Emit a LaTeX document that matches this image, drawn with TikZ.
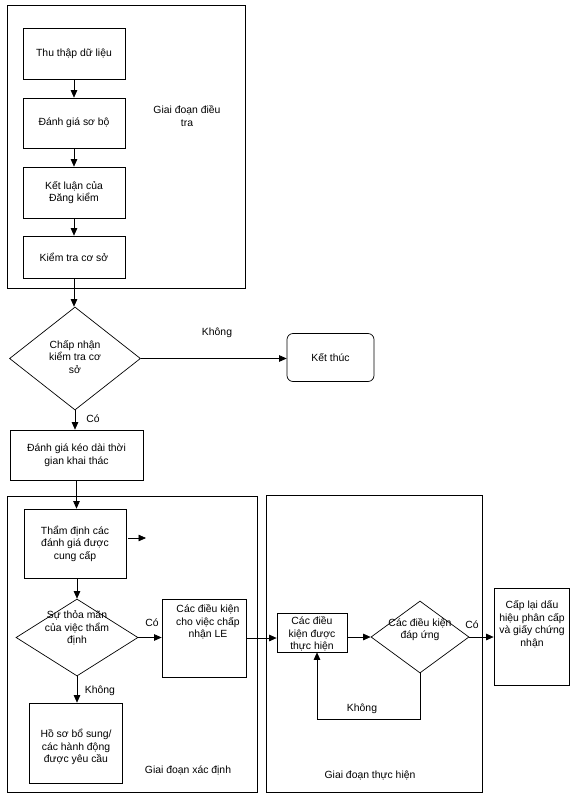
\documentclass[tikz,border=0pt]{standalone}
\usepackage{fontspec}
\setmainfont{Liberation Sans}
\usetikzlibrary{arrows.meta,shapes.geometric}
\begin{document}
\begin{tikzpicture}[x=1pt,y=-1pt,
  every node/.style={font=\fontsize{10.4}{12.5}\selectfont, inner sep=0pt},
  box/.style={draw, rectangle, line width=0.7pt},
  dia/.style={draw, diamond, line width=0.7pt},
  arr/.style={-{Triangle[length=7.5pt,width=6.5pt]}, line width=0.7pt},
  lbl/.style={align=center}]
\fill[white] (0,0) rectangle (575,798);
\useasboundingbox (0,0) rectangle (575,798);
% containers
\node[box, minimum width=238pt, minimum height=283pt] (c1) at (126,146.5) {};
\node[box, minimum width=250pt, minimum height=296pt] (c2) at (132,644) {};
\node[box, minimum width=216pt, minimum height=297pt] (c3) at (374,643.5) {};
% investigation phase
\node[box, minimum width=102pt, minimum height=51pt] (b1) at (74,53.5) {Thu thập dữ liệu};
\node[box, minimum width=102pt, minimum height=50pt] (b2) at (74,123) {Đánh giá sơ bộ};
\node[box, minimum width=102pt, minimum height=51pt, align=center] (b3) at (74,192.5) {Kết luận của\\Đăng kiểm};
\node[box, minimum width=102pt, minimum height=42pt] (b4) at (74,257) {Kiểm tra cơ sở};
\node[lbl] (t1) at (187,116) {Giai đoạn điều\\tra};
% decision 1
\node[dia, minimum width=131pt, minimum height=103pt] (d1) at (75,358.5) {};
\node[lbl] (d1t) at (75,357) {Chấp nhận\\kiểm tra cơ\\sở};
\node[box, rounded corners=6pt, minimum width=87pt, minimum height=48pt] (end) at (330.5,357.5) {Kết thúc};
\node (t2) at (217,333) {Không};
\node (t3) at (93,419) {Có};
\node[box, minimum width=133pt, minimum height=50pt, align=center] (b5) at (76.5,455) {Đánh giá kéo dài thời\\gian khai thác};
% determination phase
\node[box, minimum width=102pt, minimum height=69pt, align=center] (b6) at (75,543.5) {Thẩm định các\\đánh giá được\\cung cấp};
\coordinate (sa1) at (128,538);
\coordinate (sa2) at (146,538);
\node[dia, minimum width=122pt, minimum height=77pt] (d2) at (77,637.5) {};
\node[lbl] (d2t) at (77,628) {Sự thỏa mãn\\của việc thẩm\\định};
\node[box, minimum width=84pt, minimum height=78pt] (le) at (204,638) {};
\node[lbl] (let) at (208,622) {Các điều kiện\\cho việc chấp\\nhận LE};
\node (t4) at (152,623) {Có};
\node (t5) at (100,691) {Không};
\node[box, minimum width=93pt, minimum height=80pt, align=center] (b8) at (75.5,743) {};
\node[lbl] (b8t) at (76,747) {Hồ sơ bổ sung/\\các hành động\\được yêu cầu};
\node (t6) at (188,770) {Giai đoạn xác định};
% implementation phase
\node[box, minimum width=70pt, minimum height=39pt] (b7) at (312,632.5) {};
\node[lbl] (b7t) at (312,634) {Các điều\\kiện được\\thực hiện};
\node[dia, minimum width=98pt, minimum height=72pt] (d3) at (420,637) {};
\node[lbl] (d3t) at (420,629.5) {Các điều kiện\\đáp ứng};
\node (t7) at (472,625) {Có};
\node[box, minimum width=75pt, minimum height=97pt] (fin) at (531.5,636.5) {};
\node[lbl] (fint) at (532,624.5) {Cấp lại dấu\\hiệu phân cấp\\và giấy chứng\\nhận};
\node (t8) at (362,709) {Không};
\node (t9) at (370,775) {Giai đoạn thực hiện};
\coordinate (lp) at (317,719);
% connectors
\draw[arr] (b1) -- (b2);
\draw[arr] (b2) -- (b3);
\draw[arr] (b3) -- (b4);
\draw[arr] (b4.south) -- (b4.south |- d1.north);
\draw[arr] (d1.east) -- (d1.east -| end.west);
\draw[arr] (d1.south) -- (d1.south |- b5.north);
\draw[arr] (b5.south) -- (b5.south |- b6.north);
\draw[arr] (sa1) -- (sa2);
\draw[arr] (b6.south -| d2.north) -- (d2.north);
\draw[arr] (d2.east) -- (d2.east -| le.west);
\draw[arr] (d2.south) -- (d2.south |- b8.north);
\draw[arr] (le.east) -- (le.east -| b7.west);
\draw[arr] (b7.east |- d3.west) -- (d3.west);
\draw[arr] (d3.east) -- (d3.east -| fin.west);
\draw[arr] (d3.south) |- (lp) -- (b7.south -| lp);
\end{tikzpicture}
\end{document}
